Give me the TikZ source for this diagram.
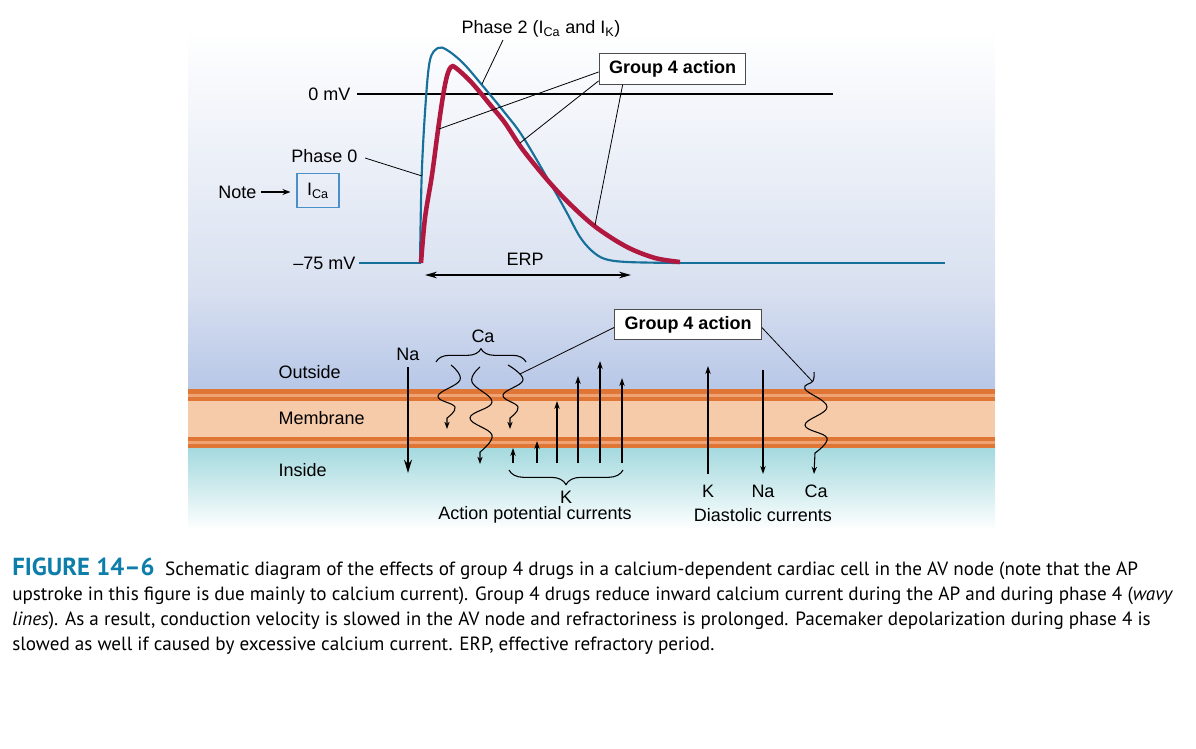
\documentclass[tikz,border=0pt]{standalone}
\usepackage{fontspec}
\setmainfont{Liberation Sans}
\newfontfamily\capfont{PT Sans}
\usetikzlibrary{arrows.meta,decorations.pathreplacing,calc}
\definecolor{apblue}{HTML}{15709A}
\definecolor{apred}{HTML}{B0183F}
\definecolor{memout}{HTML}{E07636}
\definecolor{memlight}{HTML}{EFA274}
\definecolor{memin}{HTML}{F5CBA9}
\definecolor{bgmid}{HTML}{D8E0F0}
\definecolor{bgdeep}{HTML}{B7C7E7}
\definecolor{incyan}{HTML}{A3D9DE}
\definecolor{capblue}{HTML}{0D7EAA}
\definecolor{boxblue}{HTML}{4A90C8}
\tikzset{
  lbl/.style={inner sep=1pt, font=\fontsize{13.5}{15}\selectfont},
  gbox/.style={draw=black!70, line width=0.8pt, fill=white, minimum width=110pt, minimum height=23pt, inner sep=2pt, font=\fontsize{13.5}{15}\bfseries},
  leader/.style={line width=0.6pt, black},
  bigarrow/.style={line width=1.1pt, -{Stealth[length=10pt,width=6pt]}},
  karrow/.style={line width=1.1pt, -{Stealth[length=6pt,width=4pt]}},
  wave/.style={line width=0.8pt, -{Stealth[length=5.5pt,width=4pt]}},
  capline/.style={anchor=base west, inner sep=0pt, font=\capfont\fontsize{14.35}{17}\selectfont}
}
\begin{document}
\begin{tikzpicture}[x=0.75pt,y=-0.75pt]
\useasboundingbox (0,0) rectangle (1196,749);
% background
\shade[top color=white, bottom color=bgmid] (188,30) rectangle (995,290);
\shade[top color=bgmid, bottom color=bgdeep] (188,290) rectangle (995,390);
\shade[top color=incyan, bottom color=white] (188,447) rectangle (995,530);
\fill[memin] (188,400) rectangle (995,438);
\fill[memout] (188,389) rectangle (995,401);
\fill[memlight] (188,393.5) rectangle (995,396.5);
\fill[memout] (188,437) rectangle (995,448);
\fill[memlight] (188,441) rectangle (995,444);

% ---------- action potential ----------
\draw[line width=0.8pt] (357,94) -- (833,94);
\node[lbl, anchor=east] (zero) at (352,94) {0 mV};
\node[lbl, anchor=east] (m75) at (357,263) {–75 mV};
\draw[apblue, line width=1.6pt] (359,263) -- (421,263);
\draw[apblue, line width=1.6pt] (676,263) -- (945,263);
\draw[apblue, line width=1.6pt] plot[smooth, tension=0.55] coordinates {(420,263) (421.7,175) (425.7,102) (430,60) (438,48) (447,50) (463,63) (482,85) (505,113) (523,137) (553,188) (567,213) (580,237) (592,251) (605,259) (627,262) (678,263)};
\draw[apred, line width=3.4pt] plot[smooth, tension=0.55] coordinates {(421,263) (425,218) (432,175) (438,130) (443,96) (447,76) (451,67) (456,68) (472,83) (492,107) (505,123) (523,150) (550,183) (573,207) (597,228) (627,247) (655,258) (680,262)};

\node[lbl] (ph2) at (541,29) {Phase 2 (I\textsubscript{Ca} and I\textsubscript{K})};
\coordinate (ph2a) at (503,40);
\coordinate (ph2b) at (482,84);
\draw[leader] (ph2a) -- (ph2b);

\node[lbl, anchor=east] (ph0) at (359,156) {Phase 0};
\coordinate (ph0b) at (422,176);
\draw[leader] (365,158) -- (ph0b);

\node[draw=boxblue, line width=0.8pt, minimum width=31.5pt, minimum height=26pt, inner sep=1pt, font=\fontsize{13.5}{15}\selectfont] (ica) at (318,190.5) {I\textsubscript{Ca}};
\node[lbl, anchor=east] (note) at (258,192) {Note};
\draw[line width=0.8pt, -{Stealth[length=6pt,width=4.5pt]}] (note.east) ++(3,0) -- ($(ica.west)+(-6,1.5)$);

\coordinate (erpL) at (425,275);
\coordinate (erpR) at (631,275);
\draw[line width=1.2pt, {Stealth[length=9pt,width=5pt]}-{Stealth[length=9pt,width=5pt]}] (erpL) -- (erpR);
\node[lbl] (erp) at (525,259) {ERP};

\node[gbox] (g1) at (672.5,69) {Group 4 action};
\coordinate (g1a) at (439,129);
\coordinate (g1b) at (520,143);
\coordinate (g1c) at (595,225);
\draw[leader] ($(g1.west)+(0,3)$) -- (g1a);
\draw[leader] ($(g1.south west)+(0,-4)$) -- (g1b);
\draw[leader] ($(g1.south west)+(24,0)$) -- (g1c);

% ---------- membrane currents ----------
\node[lbl, anchor=west] (out) at (277,372) {Outside};
\node[lbl, anchor=west] (mem) at (277,418) {Membrane};
\node[lbl, anchor=west] (ins) at (277,470) {Inside};

\node[lbl] (na1) at (408,354) {Na};
\coordinate (na1e) at (408,473);
\draw[bigarrow] (408,367) -- (na1e);

\node[lbl] (ca1) at (483,336) {Ca};
\draw[line width=0.8pt, decorate, decoration={brace, amplitude=10pt}] (436,362) -- (526,362);

\draw[wave] plot[smooth, tension=0.7] coordinates {(451,365) (460,380) (438,396) (455,407) (447,418)} -- (447,429);
\draw[wave] plot[smooth, tension=0.7] coordinates {(480,367) (472,382) (492,402) (470,418) (492,435) (480,452)} -- (480,464);
\draw[wave] plot[smooth, tension=0.7] coordinates {(508,365) (523,380) (503,395) (518,407) (510,418)} -- (510,429);

% K action potential currents
\foreach \x/\t in {513/448, 537/441, 557/401, 578/376, 600/361, 622/378}{
  \draw[karrow] (\x,463) -- (\x,\t);
}
\draw[line width=0.8pt, decorate, decoration={brace, amplitude=11pt}] (623,470) -- (509,470);
\node[lbl] (k1) at (566,497) {K};
\node[lbl] (apc) at (535,515) {Action potential currents};

\node[gbox] (g2) at (688,324.5) {Group 4 action};
\coordinate (g2a) at (520,374);
\coordinate (g2b) at (812,381);
\draw[leader] ($(g2.west)+(0,3)$) -- (g2a);
\draw[leader] ($(g2.east)+(0,3)$) -- (g2b);

% diastolic currents
\node[lbl] (k2) at (708,491) {K};
\node[lbl] (na2) at (763,491) {Na};
\node[lbl] (ca2) at (816,491) {Ca};
\node[lbl] (dia) at (763,515) {Diastolic currents};
\draw[karrow] (708,474) -- (708,366);
\draw[karrow] (763,370) -- (763,474);
\draw[wave] plot[smooth, tension=0.7] coordinates {(814,372) (813,381) (805,389) (827,407) (805,425) (827,438) (815,453)} -- (814,474);

% ---------- caption ----------
\node[capline] (c1) at (12,575) {{\bfseries\color{capblue}\fontsize{18.5}{20}\selectfont FIGURE 14–6}\hspace{8pt}Schematic diagram of the effects of group 4 drugs in a calcium-dependent cardiac cell in the AV node (note that the AP};
\node[capline] (c2) at (12,600) {upstroke in this figure is due mainly to calcium current). Group 4 drugs reduce inward calcium current during the AP and during phase 4 (\textit{wavy}};
\node[capline] (c3) at (12,625) {\textit{lines}). As a result, conduction velocity is slowed in the AV node and refractoriness is prolonged. Pacemaker depolarization during phase 4 is};
\node[capline] (c4) at (12,650) {slowed as well if caused by excessive calcium current. ERP, effective refractory period.};
\end{tikzpicture}
\end{document}
